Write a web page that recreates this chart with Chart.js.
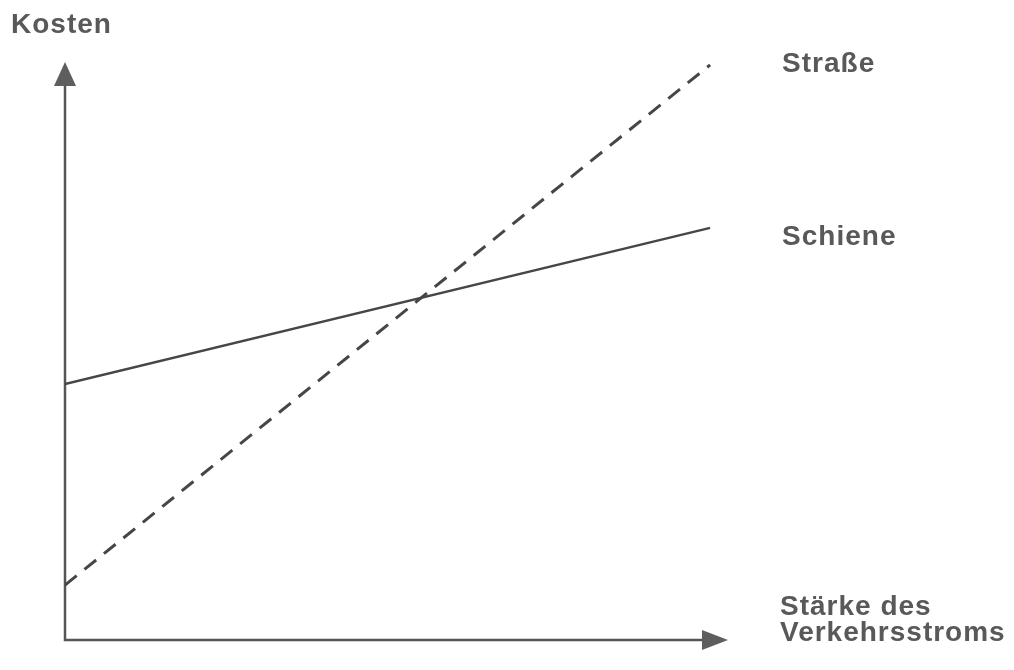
<!DOCTYPE html>
<html>
<head>
<meta charset="utf-8">
<script src="https://cdn.jsdelivr.net/npm/chart.js@4/dist/chart.umd.min.js"></script>
<style>
  html, body { margin: 0; padding: 0; background: #fff; }
  #chart { display: block; }
</style>
</head>
<body>
<canvas id="chart" width="1014" height="670"></canvas>
<script>
// Values (axis units 0..10 on both axes)
const verkehrsstrom = [0, 9.73];
const kostenSchiene = [4.43, 7.13];
const kostenStrasse = [0.95, 9.95];
const seriesNames = ['Straße', 'Schiene'];
const yTitle = 'Kosten';
const xTitle = ['Stärke des', 'Verkehrsstroms'];

const textColor = '#595959';
const lineColor = '#464646';
const font = 'bold 28px "Liberation Sans", Arial, sans-serif';

function points(ys) {
    return verkehrsstrom.map(function(x, i) { return { x: x, y: ys[i] }; });
}

// draws both axes with arrow heads
const axesPlugin = {
    id: 'arrowAxes',
    beforeDatasetsDraw: function(chart) {
        const a = chart.chartArea;
        const ctx = chart.ctx;
        ctx.save();
        ctx.strokeStyle = '#555';
        ctx.lineWidth = 2.5;
        ctx.beginPath();
        ctx.moveTo(a.left, a.top + 20);
        ctx.lineTo(a.left, a.bottom);
        ctx.lineTo(a.right - 20, a.bottom);
        ctx.stroke();

        ctx.fillStyle = '#5e5e5e';
        // y arrow
        ctx.beginPath();
        ctx.moveTo(a.left, a.top);
        ctx.lineTo(a.left - 11, a.top + 24);
        ctx.lineTo(a.left + 11, a.top + 24);
        ctx.closePath();
        ctx.fill();
        // x arrow
        ctx.beginPath();
        ctx.moveTo(a.right, a.bottom);
        ctx.lineTo(a.right - 26, a.bottom - 10);
        ctx.lineTo(a.right - 26, a.bottom + 10);
        ctx.closePath();
        ctx.fill();
        ctx.restore();
    }
};

// axis titles and series names next to line ends
const labelsPlugin = {
    id: 'labels',
    afterDatasetsDraw: function(chart) {
        const ctx = chart.ctx;
        const baselineShift = [7, 17];
        ctx.save();
        ctx.font = font;
        ctx.letterSpacing = '1px';
        ctx.fillStyle = textColor;
        ctx.textAlign = 'left';
        ctx.textBaseline = 'alphabetic';
        ctx.fillText(yTitle, 11, 33);
        ctx.fillText(xTitle[0], 780, 615);
        ctx.fillText(xTitle[1], 780, 641);

        chart.data.datasets.forEach(function(ds, i) {
            const meta = chart.getDatasetMeta(i);
            const last = meta.data[meta.data.length - 1];
            ctx.fillText(ds.label, last.x + 72, last.y + baselineShift[i]);
        });
        ctx.restore();
    }
};

new Chart(document.getElementById('chart'), {
    type: 'line',
    data: {
        datasets: [{
            label: seriesNames[0],
            data: points(kostenStrasse),
            borderColor: lineColor,
            borderWidth: 3,
            borderDash: [15, 10],
            pointRadius: 0,
            fill: false
        }, {
            label: seriesNames[1],
            data: points(kostenSchiene),
            borderColor: lineColor,
            borderWidth: 2.5,
            pointRadius: 0,
            fill: false
        }]
    },
    options: {
        responsive: false,
        animation: false,
        layout: {
            padding: { left: 65, top: 62, right: 286, bottom: 30 }
        },
        plugins: {
            legend: { display: false },
            tooltip: { enabled: false }
        },
        scales: {
            x: { type: 'linear', min: 0, max: 10, display: false },
            y: { type: 'linear', min: 0, max: 10, display: false }
        }
    },
    plugins: [axesPlugin, labelsPlugin]
});
</script>
</body>
</html>
